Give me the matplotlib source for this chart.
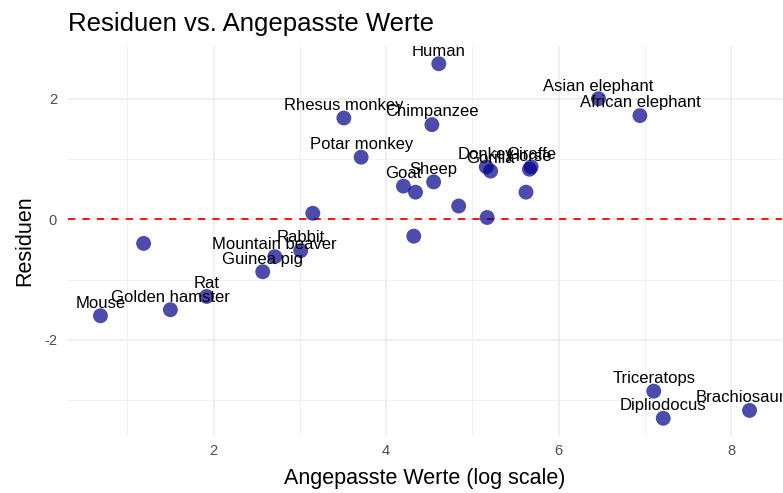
import numpy as np
import matplotlib.pyplot as plt

plt.rcParams['font.family'] = ['Liberation Sans', 'DejaVu Sans']

# Tier, angepasster Wert (log), Residuum
animals = ['Mouse', 'Golden hamster', 'Rat', 'Mole', 'Guinea pig', 'Mountain beaver',
           'Rabbit', 'Cat', 'Rhesus monkey', 'Potar monkey', 'Goat', 'Grey wolf',
           'Kangaroo', 'Sheep', 'Human', 'Chimpanzee', 'Jaguar', 'Donkey', 'Gorilla',
           'Pig', 'Horse', 'Giraffe', 'Cow', 'Asian elephant', 'African elephant',
           'Triceratops', 'Dipliodocus', 'Brachiosaurus']
fitted = [0.69, 1.50, 1.92, 1.19, 2.57, 2.71, 3.01, 3.15, 3.51, 3.71, 4.20, 4.34,
          4.32, 4.55, 4.61, 4.53, 4.84, 5.16, 5.21, 5.17, 5.66, 5.68, 5.62, 6.46,
          6.94, 7.10, 7.21, 8.21]
resid = [-1.60, -1.50, -1.28, -0.40, -0.87, -0.62, -0.52, 0.10, 1.68, 1.03, 0.55,
         0.45, -0.28, 0.62, 2.58, 1.57, 0.22, 0.87, 0.80, 0.03, 0.83, 0.87, 0.45,
         2.00, 1.72, -2.85, -3.30, -3.17]
# Beschriftungen, die im Bild sichtbar sind (check_overlap)
shown = ['Mouse', 'Golden hamster', 'Rat', 'Guinea pig', 'Mountain beaver', 'Rabbit',
         'Rhesus monkey', 'Potar monkey', 'Goat', 'Sheep', 'Human', 'Chimpanzee',
         'Donkey', 'Gorilla', 'Horse', 'Giraffe', 'Asian elephant', 'African elephant',
         'Triceratops', 'Dipliodocus', 'Brachiosaurus']
xticks = [2, 4, 6, 8]
yticks = [-2, 0, 2]

fig = plt.figure(figsize=(7.83, 4.93), dpi=100)
ax = fig.add_axes([68 / 783, 1 - 436 / 493, (782 - 68) / 783, (436 - 46) / 493])

x = np.array(fitted)
y = np.array(resid)
xr = x.max() - x.min()
yr = y.max() - y.min()
ax.set_xlim(x.min() - 0.05 * xr, x.max() + 0.05 * xr)
ax.set_ylim(y.min() - 0.05 * yr, y.max() + 0.05 * yr)

ax.set_xticks(xticks)
ax.set_xticklabels([str(t) for t in xticks])
ax.set_xticks([1, 3, 5, 7], minor=True)
ax.set_yticks(yticks)
ax.set_yticklabels([str(t) for t in yticks])
ax.set_yticks([-3, -1, 1], minor=True)
ax.grid(which='major', color='#ebebeb', linewidth=1.1)
ax.grid(which='minor', color='#f1f1f1', linewidth=0.7)
ax.set_axisbelow(True)
for s in ax.spines.values():
    s.set_visible(False)
ax.tick_params(which='both', length=0, labelsize=10.5, labelcolor='#4d4d4d')
ax.tick_params(axis='x', pad=6)
ax.tick_params(axis='y', pad=8)

ax.axhline(0, color='red', linestyle=(0, (4, 4)), linewidth=1.3, zorder=2)
ax.scatter(x, y, s=115, color='darkblue', alpha=0.7, edgecolors='none', zorder=3)

for name, xi, yi in zip(animals, fitted, resid):
    if name in shown:
        ax.text(xi, yi + 0.21, name, ha='center', va='center', fontsize=12,
                color='black', clip_on=True, zorder=4)

ax.set_xlabel('Angepasste Werte (log scale)', fontsize=15.5, labelpad=7)
ax.set_ylabel('Residuen', fontsize=15.5, labelpad=6)
ax.set_title('Residuen vs. Angepasste Werte', loc='left', fontsize=18.5, pad=11)

fig.savefig('out.png', dpi=100)
